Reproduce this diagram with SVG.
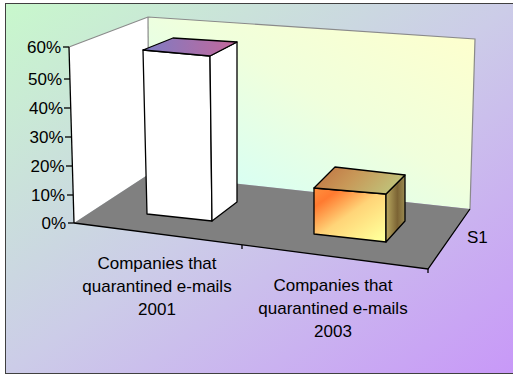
<svg xmlns="http://www.w3.org/2000/svg" width="513" height="375" viewBox="0 0 513 375">
<defs>
<linearGradient id="bg" x1="0" y1="0" x2="1" y2="1">
<stop offset="0" stop-color="#c8f8cc"/>
<stop offset="0.5" stop-color="#cccce8"/>
<stop offset="1" stop-color="#c898f8"/>
</linearGradient>
<linearGradient id="wall" x1="0" y1="1" x2="1" y2="0">
<stop offset="0" stop-color="#ccffff"/>
<stop offset="0.55" stop-color="#f0ffdc"/>
<stop offset="1" stop-color="#ffffcc"/>
</linearGradient>
<linearGradient id="top1" x1="0" y1="0" x2="1" y2="0">
<stop offset="0" stop-color="#7c7cc4"/>
<stop offset="1" stop-color="#c4679a"/>
</linearGradient>
<linearGradient id="front2" x1="0" y1="0.1" x2="0.85" y2="1">
<stop offset="0" stop-color="#ff8a3a"/>
<stop offset="0.15" stop-color="#ff7a30"/>
<stop offset="0.5" stop-color="#ffd478"/>
<stop offset="1" stop-color="#ffff99"/>
</linearGradient>
<linearGradient id="side2" x1="0" y1="0" x2="1" y2="0">
<stop offset="0" stop-color="#b8a860"/>
<stop offset="0.6" stop-color="#7c6434"/>
<stop offset="1" stop-color="#9a8a50"/>
</linearGradient>
<linearGradient id="top2" x1="0" y1="0" x2="1" y2="0.3">
<stop offset="0" stop-color="#c07040"/>
<stop offset="0.5" stop-color="#c89858"/>
<stop offset="1" stop-color="#c0c078"/>
</linearGradient>
</defs>
<style>
.bar{stroke:#000;stroke-width:1.3;stroke-linejoin:round}
.wallEdge{stroke:#8a8a8a;stroke-width:1.2;fill:none}
.axis{stroke:#000;stroke-width:1.3;fill:none}
.lbl{font-family:"Liberation Sans",Arial,sans-serif;font-size:17px;fill:#000}
.yl{text-anchor:end}
.cl{text-anchor:middle}
</style>
<rect x="0" y="0" width="513" height="375" fill="#ffffff"/>
<g id="chart-area">
<rect x="5.5" y="3.5" width="510" height="370" fill="url(#bg)" stroke="#404040" stroke-width="1"/>
</g>
<g id="walls">
<polygon points="69,47 148,17 149,174 74,223" fill="#ffffff"/>
<polygon points="148,17 475,39 470,209 149,174" fill="url(#wall)"/>
<polyline class="wallEdge" points="69,47 148,17 475,39 470,209"/>
<line class="wallEdge" x1="148" y1="17" x2="149" y2="174"/>
<polygon id="floor" points="149,174 470,209 428,269 74,223" fill="#808080"/>
</g>
<g id="connectors">
<polyline class="axis" points="74,223 428,269 470,209"/>
<line class="axis" x1="69" y1="47" x2="74" y2="223"/>
<line class="axis" x1="63" y1="47" x2="69" y2="47"/>
<line class="axis" x1="64" y1="79" x2="70" y2="79"/>
<line class="axis" x1="64" y1="108" x2="70.5" y2="108"/>
<line class="axis" x1="65" y1="137" x2="71" y2="137"/>
<line class="axis" x1="66" y1="166" x2="72" y2="166"/>
<line class="axis" x1="67" y1="195" x2="73" y2="195"/>
<line class="axis" x1="68" y1="223" x2="74" y2="223"/>
<line class="axis" x1="242" y1="245" x2="242" y2="249"/>
<line class="axis" x1="428" y1="269" x2="428" y2="273"/>
</g>
<g id="bar-2001">
<polygon class="bar" points="143,50 210,56 212,221 147,214" fill="#ffffff"/>
<polygon class="bar" points="210,56 237,42 237,202 212,221" fill="#ffffff"/>
<polygon class="bar" points="143,50 210,56 237,42 173,38" fill="url(#top1)"/>
</g>
<g id="bar-2003">
<polygon class="bar" points="314,188 386,194 386,242 314,234" fill="url(#front2)"/>
<polygon class="bar" points="386,194 405,175 405,221 386,242" fill="url(#side2)"/>
<polygon class="bar" points="314,188 386,194 405,175 335,167" fill="url(#top2)"/>
</g>
<g id="y-axis-labels">
<text class="lbl yl" x="61" y="53">60%</text>
<text class="lbl yl" x="62" y="85">50%</text>
<text class="lbl yl" x="63" y="114">40%</text>
<text class="lbl yl" x="63.5" y="143">30%</text>
<text class="lbl yl" x="64.5" y="172">20%</text>
<text class="lbl yl" x="65" y="201">10%</text>
<text class="lbl yl" x="66" y="229">0%</text>
</g>
<g id="category-2001">
<text class="lbl cl" x="157" y="269">Companies that</text>
<text class="lbl cl" x="157" y="292">quarantined e-mails</text>
<text class="lbl cl" x="157" y="315">2001</text>
</g>
<g id="category-2003">
<text class="lbl cl" x="333" y="291">Companies that</text>
<text class="lbl cl" x="333" y="314">quarantined e-mails</text>
<text class="lbl cl" x="333" y="337">2003</text>
</g>
<g id="series-label">
<text class="lbl" x="467" y="243">S1</text>
</g>
</svg>
